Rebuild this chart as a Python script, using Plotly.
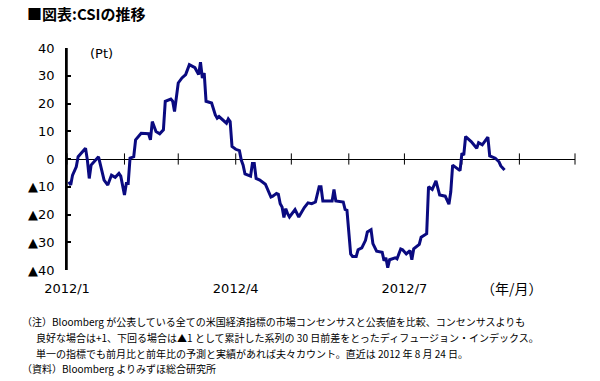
import plotly.graph_objects as go

# ---- data ----
dates = [
    "2012-01-02", "2012-01-03", "2012-01-04", "2012-01-06", "2012-01-07", "2012-01-11",
    "2012-01-12", "2012-01-13", "2012-01-14", "2012-01-18", "2012-01-21", "2012-01-23",
    "2012-01-25", "2012-01-27", "2012-01-29", "2012-01-30", "2012-02-01", "2012-02-02",
    "2012-02-03", "2012-02-04", "2012-02-06", "2012-02-07", "2012-02-10", "2012-02-14",
    "2012-02-15", "2012-02-16", "2012-02-18", "2012-02-20", "2012-02-22", "2012-02-23",
    "2012-02-26", "2012-02-27", "2012-02-28", "2012-03-01", "2012-03-03", "2012-03-05",
    "2012-03-07", "2012-03-10", "2012-03-12", "2012-03-13", "2012-03-14", "2012-03-15",
    "2012-03-16", "2012-03-19", "2012-03-21", "2012-03-22", "2012-03-23", "2012-03-27",
    "2012-03-28", "2012-03-29", "2012-03-30", "2012-04-01", "2012-04-03", "2012-04-04",
    "2012-04-05", "2012-04-06", "2012-04-09", "2012-04-10", "2012-04-11", "2012-04-12",
    "2012-04-14", "2012-04-17", "2012-04-20", "2012-04-21", "2012-04-23", "2012-04-24",
    "2012-04-25", "2012-04-26", "2012-04-27", "2012-04-28", "2012-04-29", "2012-04-30",
    "2012-05-03", "2012-05-05", "2012-05-08", "2012-05-10", "2012-05-12", "2012-05-14",
    "2012-05-16", "2012-05-17", "2012-05-18", "2012-05-23", "2012-05-24", "2012-05-25",
    "2012-05-29", "2012-05-30", "2012-05-31", "2012-06-01", "2012-06-02", "2012-06-03",
    "2012-06-05", "2012-06-06", "2012-06-08", "2012-06-10", "2012-06-11", "2012-06-13",
    "2012-06-14", "2012-06-16", "2012-06-19", "2012-06-20", "2012-06-21", "2012-06-22",
    "2012-06-23", "2012-06-26", "2012-06-27", "2012-06-29", "2012-06-30", "2012-07-02",
    "2012-07-04", "2012-07-05", "2012-07-06", "2012-07-09", "2012-07-10", "2012-07-13",
    "2012-07-14", "2012-07-16", "2012-07-18", "2012-07-20", "2012-07-23", "2012-07-25",
    "2012-07-26", "2012-07-27", "2012-07-31", "2012-08-01", "2012-08-02", "2012-08-03",
    "2012-08-06", "2012-08-09", "2012-08-10", "2012-08-12", "2012-08-15", "2012-08-16",
    "2012-08-19", "2012-08-21", "2012-08-22", "2012-08-24",
]
csi = [
    -8.2, -9.4, -5.8, -2.8, 0.8, 3.9,
    -0.4, -7.0, -2.2, 0.8, -7.6, -9.4,
    -5.8, -6.6, -5.2, -6.2, -13.0, -8.8,
    -8.8, 0.3, 0.8, 6.9, 9.3, 9.1,
    6.9, 13.5, 9.9, 9.1, 10.5, 20.8,
    21.6, 20.8, 17.1, 27.4, 29.2, 30.4,
    34.0, 32.9, 30.4, 34.9, 29.2, 31.0,
    20.8, 20.2, 15.9, 14.7, 15.3, 12.9,
    14.4, 13.5, 4.5, 3.5, 3.0, -0.4,
    -2.2, -5.4, -6.2, -1.6, -1.6, -7.0,
    -7.6, -9.1, -13.7, -13.4, -12.4, -12.7,
    -16.1, -17.3, -21.1, -17.9, -19.7, -20.9,
    -18.2, -20.9, -17.5, -15.8, -16.1, -15.5,
    -10.0, -10.0, -15.1, -15.1, -11.0, -15.1,
    -15.5, -18.2, -18.5, -28.2, -34.2, -35.1,
    -35.1, -32.7, -32.0, -29.3, -26.3, -25.5,
    -30.5, -33.2, -33.6, -36.6, -35.6, -39.2,
    -36.3, -35.6, -36.0, -32.4, -32.7, -34.2,
    -33.0, -36.3, -32.4, -30.8, -28.2, -26.9,
    -10.0, -11.0, -7.9, -13.0, -13.4, -16.3,
    -11.8, -2.2, -4.2, 2.1, 1.4, 8.1,
    6.3, 3.9, 5.9, 5.1, 7.9, 1.1,
    0.3, -1.0, -2.5, -4.0,
]

x_range = ["2012-01-01", "2012-10-01"]
month_starts = ["2012-01-01", "2012-02-01", "2012-03-01", "2012-04-01", "2012-05-01",
                "2012-06-01", "2012-07-01", "2012-08-01", "2012-09-01", "2012-10-01"]
x_tick_vals = ["2012-01-01", "2012-04-01", "2012-07-01"]
x_tick_text = ["2012/1", "2012/4", "2012/7"]
y_range = [-40, 40]
y_tick_vals = [-40, -30, -20, -10, 0, 10, 20, 30, 40]
y_tick_text = ["▲40", "▲30", "▲20", "▲10", "0", "10", "20", "30", "40"]

title_text = "■図表:CSIの推移"
unit_text = "(Pt)"
xunit_text = "（年/月）"
notes = [
    "（注）Bloomberg が公表している全ての米国経済指標の市場コンセンサスと公表値を比較、コンセンサスよりも",
    "良好な場合は+1、下回る場合は▲1 として累計した系列の 30 日前差をとったディフュージョン・インデックス。",
    "単一の指標でも前月比と前年比の予測と実績があれば夫々カウント。直近は 2012 年 8 月 24 日。",
    "（資料）Bloomberg よりみずほ総合研究所",
]

# ---- layout geometry ----
W, H = 600, 381
L, R, T, B = 67, 25, 48, 111
PW, PH = W - L - R, H - T - B


def px(x, y):
    return (x - L) / PW, 1 - (y - T) / PH


NUM_FONT = "DejaVu Sans, Noto Sans CJK JP"
JP_FONT = "Noto Sans CJK JP, DejaVu Sans"
NAVY = "#0a0a80"

fig = go.Figure()
# month tick marks crossing the zero line
fig.add_trace(go.Scatter(x=month_starts, y=[0] * len(month_starts), mode="markers",
                         marker=dict(symbol="line-ns", size=8,
                                     line=dict(color="black", width=1)),
                         showlegend=False, hoverinfo="skip", cliponaxis=False))
fig.add_trace(go.Scatter(x=dates, y=csi, mode="lines",
                         line=dict(color=NAVY, width=3), showlegend=False))

fig.update_layout(
    width=W, height=H,
    margin=dict(l=L, r=R, t=T, b=B, pad=0),
    paper_bgcolor="white", plot_bgcolor="white",
    showlegend=False,
    xaxis=dict(type="date", range=x_range, tickvals=x_tick_vals, ticktext=x_tick_text,
               ticks="", showline=False, showgrid=False, zeroline=False,
               tickfont=dict(family=NUM_FONT, size=13, color="black"),
               ticklabelstandoff=9),
    yaxis=dict(range=y_range, tickvals=y_tick_vals, ticktext=y_tick_text,
               showline=True, linecolor="black", linewidth=1.5,
               ticks="inside", ticklen=4, tickwidth=1.5, tickcolor="black",
               showgrid=False,
               zeroline=True, zerolinecolor="black", zerolinewidth=1,
               tickfont=dict(family=NUM_FONT, size=13, color="black"),
               ticklabelstandoff=8),
)

# y-axis line as a layout shape, slightly thicker so it survives rendering
fig.add_shape(type="line", xref="paper", yref="y", x0=0, x1=0,
              y0=y_range[0], y1=y_range[1], line=dict(color="black", width=1.5),
              layer="above")

ann = []
x0, y0 = px(25, 13)
ann.append(dict(text="<b>" + title_text + "</b>", x=x0, y=y0, xanchor="left", yanchor="middle",
                font=dict(family=JP_FONT, size=15, color="black")))
x0, y0 = px(101, 54)
ann.append(dict(text=unit_text, x=x0, y=y0, xanchor="center", yanchor="middle",
                font=dict(family=NUM_FONT, size=13, color="black")))
x0, y0 = px(512, 288)
ann.append(dict(text=xunit_text, x=x0, y=y0, xanchor="center", yanchor="middle",
                font=dict(family=JP_FONT, size=14, color="black")))
note_pos = [(20, 321), (34, 337), (34, 353), (20, 368)]
for t, (nx, ny) in zip(notes, note_pos):
    x0, y0 = px(nx, ny)
    ann.append(dict(text=t, x=x0, y=y0, xanchor="left", yanchor="middle",
                    font=dict(family=JP_FONT, size=10, color="black")))
for a in ann:
    a.update(xref="paper", yref="paper", showarrow=False)
fig.update_layout(annotations=ann)

fig.write_html("out.html", config={"displayModeBar": False},
               post_script="document.body.style.margin='0';")
